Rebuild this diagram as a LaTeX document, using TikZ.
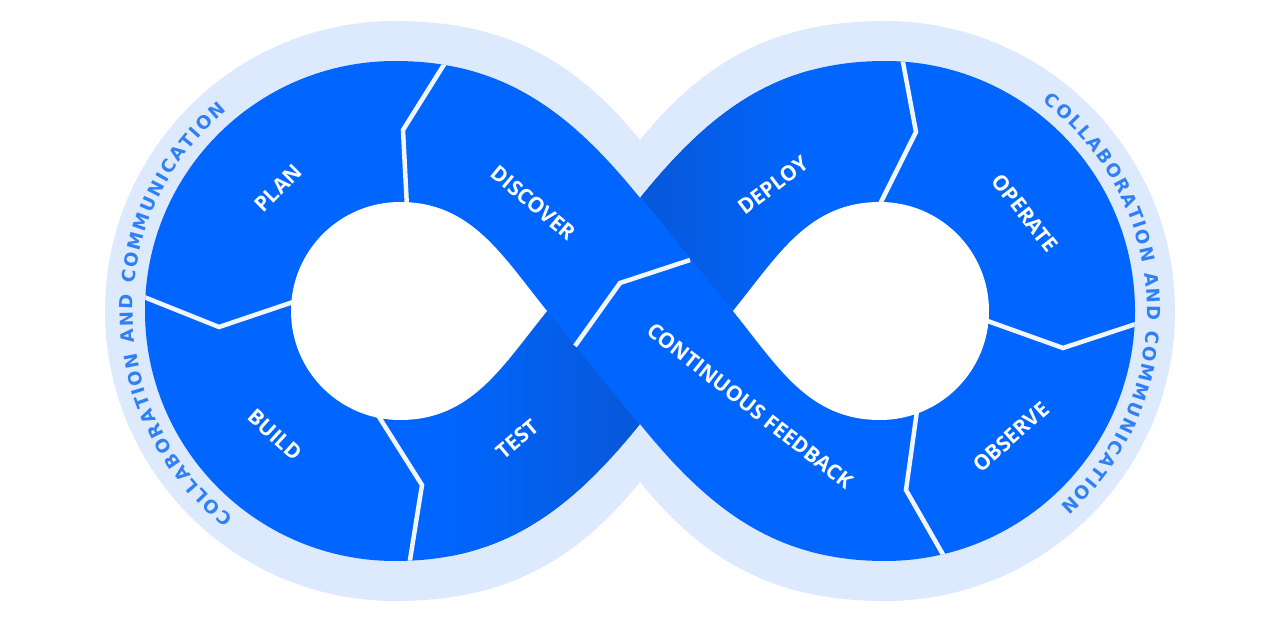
\documentclass[tikz,border=0pt]{standalone}
\usepackage{fontspec}
\usetikzlibrary{decorations.text}
\newfontfamily\stagefont{Open Sans}
\newfontfamily\ringfont{DejaVu Sans}
\definecolor{bandblue}{HTML}{0066FF}
\definecolor{banddark}{HTML}{0857D6}
\definecolor{haloblue}{HTML}{DDE9FC}
\definecolor{ringtext}{HTML}{2F80F5}
\definecolor{divwhite}{HTML}{F2F6FB}
\tikzset{
    stage/.style={text=white, inner sep=0pt, font=\stagefont\bfseries\fontsize{21}{21}\selectfont},
    divider/.style={draw=divwhite, line width=4.5pt, line join=miter},
    ring/.style={decorate, decoration={text along path, text align=fit to path, text color=ringtext,
        text={|\ringfont\bfseries\fontsize{18}{18}\selectfont|COLLABORATION AND COMMUNICATION}}}
}
\newcommand{\halopath}{(640,482) to[out=129,in=0] (395,601) arc[start angle=90,end angle=270,radius=290]
    to[out=0,in=231] (640,140) to[out=-51,in=180] (885,21) arc[start angle=-90,end angle=90,radius=290]
    to[out=180,in=51] (640,482) -- cycle}
\newcommand{\bandpath}{(640,424) to[out=129,in=0] (395,561) arc[start angle=90,end angle=270,radius=250]
    to[out=0,in=231] (640,198) to[out=-51,in=180] (885,61) arc[start angle=-90,end angle=90,radius=250]
    to[out=180,in=51] (640,424) -- cycle}
\begin{document}
\begin{tikzpicture}[x=1pt,y=1pt]
    \useasboundingbox (0,0) rectangle (1280,622);
    \fill[haloblue] \halopath;
    \fill[bandblue] \bandpath;
    \begin{scope}
        \clip \bandpath;
        \begin{scope}
            \clip (547,311) -- (380,311) -- (367,224) -- (422,137) -- (406,37) -- (406,-20) -- (815,-20) -- cycle;
            \shade[left color=bandblue, right color=banddark] (450,0) rectangle (650,320);
        \end{scope}
        \begin{scope}
            \clip (733,311) -- (880,311) -- (870,398) -- (916,490) -- (899,581) -- (899,640) -- (467,640) -- cycle;
            \shade[left color=banddark, right color=bandblue] (630,300) rectangle (810,640);
        \end{scope}
        \foreach \ax/\ay/\bx/\by/\cx/\cy in {455/575/403/492/408/395, 124/333/219/295/311/326,
                367/224/422/137/406/37, 575/276/620/339/690/362, 899/581/916/490/870/398,
                1154/304/1063/274/968/308, 953/50/906/132/920/233} {
            \draw[divider] (\ax,\ay) -- (\bx,\by) -- (\cx,\cy);
        }
    \end{scope}
    \fill[white] (547,311) to[out=129,in=0] (400,420) arc[start angle=90,end angle=270,radius=109]
        to[out=0,in=231] (547,311) -- cycle;
    \fill[white] (733,311) to[out=51,in=180] (880,420) arc[start angle=90,end angle=-90,radius=109]
        to[out=180,in=-51] (733,311) -- cycle;
    \node[stage, rotate=45] (plan) at (278,434) {PLAN};
    \node[stage, rotate=-40] (discover) at (533,419) {DISCOVER};
    \node[stage, rotate=-42] (build) at (275,187) {BUILD};
    \node[stage, rotate=40] (test) at (517,183) {TEST};
    \node[stage, rotate=37] (deploy) at (773,437) {DEPLOY};
    \node[stage, rotate=-52] (operate) at (1025,409) {OPERATE};
    \node[stage, rotate=42] (observe) at (1011,185) {OBSERVE};
    \node[stage, rotate=-38] (feedback) at (750,216) {CONTINUOUS FEEDBACK};
    \path[ring, shift={(395,311)}] (232:262) arc[start angle=232,end angle=130,radius=262];
    \path[ring, shift={(885,311)}] (53:262) arc[start angle=53,end angle=-48,radius=262];
\end{tikzpicture}
\end{document}
